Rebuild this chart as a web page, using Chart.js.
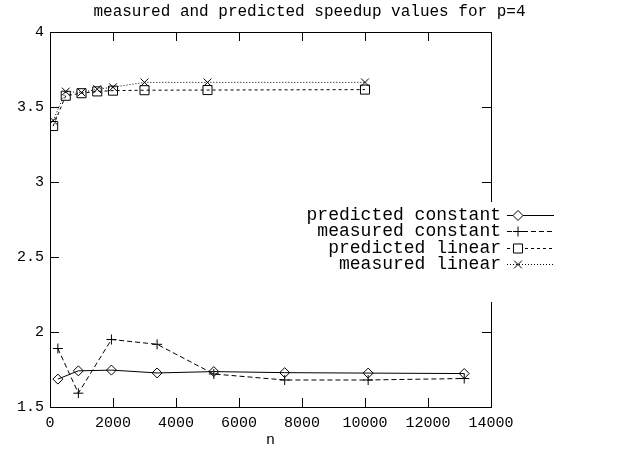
<!DOCTYPE html>
<html>
<head>
<meta charset="utf-8">
<script src="https://cdn.jsdelivr.net/npm/chart.js@4"></script>
<style>
  html, body { margin: 0; padding: 0; background: #fff; }
</style>
</head>
<body>
<canvas id="speedupChart" width="619" height="453"></canvas>
<script>
// values
const nConstant = [250, 900, 1950, 3400, 5200, 7450, 10100, 13150];
const predictedConstant = [1.686, 1.741, 1.746, 1.727, 1.736, 1.729, 1.726, 1.723];
const measuredConstant = [1.89, 1.592, 1.95, 1.918, 1.72, 1.68, 1.68, 1.69];

const nLinear = [100, 500, 1000, 1500, 2000, 3000, 5000, 10000];
const predictedLinear = [3.373, 3.575, 3.592, 3.604, 3.609, 3.612, 3.613, 3.616];
const measuredLinear = [3.41, 3.603, 3.597, 3.619, 3.632, 3.664, 3.664, 3.664];

const xTicks = [0, 2000, 4000, 6000, 8000, 10000, 12000, 14000];
const yTicks = [1.5, 2, 2.5, 3, 3.5, 4];

const titleText = "measured and predicted speedup values for p=4";
const FONT = "'Liberation Mono', 'DejaVu Sans Mono', monospace";

const pairs = (xs, ys) => xs.map((x, i) => ({ x: x, y: ys[i] }));

function series(label, xs, ys, style, radius, dash) {
  return {
    label: label,
    data: pairs(xs, ys),
    borderColor: "#000",
    borderWidth: 1,
    borderDash: dash,
    pointStyle: style,
    pointRadius: radius,
    pointBorderColor: "#000",
    pointBackgroundColor: "rgba(0,0,0,0)",
    pointBorderWidth: 1,
    showLine: true,
    tension: 0
  };
}

// gnuplot style frame with inward ticks, title and an opaque key
const gnuplotFrame = {
  id: "gnuplotFrame",
  afterDatasetsDraw(chart) {
    const ctx = chart.ctx;
    const a = chart.chartArea;
    const xs = chart.scales.x, ys = chart.scales.y;
    ctx.save();
    ctx.strokeStyle = "#000";
    ctx.lineWidth = 1;
    ctx.setLineDash([]);
    ctx.strokeRect(Math.round(a.left) + 0.5, Math.round(a.top) + 0.5,
      Math.round(a.right - a.left), Math.round(a.bottom - a.top));
    const len = 9;
    ctx.beginPath();
    xTicks.forEach(v => {
      const px = Math.round(xs.getPixelForValue(v)) + 0.5;
      ctx.moveTo(px, a.bottom); ctx.lineTo(px, a.bottom - len);
      ctx.moveTo(px, a.top); ctx.lineTo(px, a.top + len);
    });
    yTicks.forEach(v => {
      const py = Math.round(ys.getPixelForValue(v)) + 0.5;
      ctx.moveTo(a.left, py); ctx.lineTo(a.left + len, py);
      ctx.moveTo(a.right, py); ctx.lineTo(a.right - len, py);
    });
    ctx.stroke();

    // title
    ctx.fillStyle = "#000";
    ctx.font = "16px " + FONT;
    ctx.textAlign = "center";
    ctx.textBaseline = "middle";
    ctx.fillText(titleText, chart.width / 2, 12);

    // key (opaque box, like gnuplot's)
    ctx.fillStyle = "#fff";
    ctx.fillRect(292, 202, 268, 100);
    const textRight = 501, lineL = 507, lineR = 554, markX = 518;
    const rowY = [215, 231, 248, 264];
    ctx.font = "18px " + FONT;
    ctx.textAlign = "right";
    chart.data.datasets.forEach((ds, i) => {
      const y = rowY[i];
      ctx.fillStyle = "#000";
      ctx.fillText(ds.label, textRight, y);
      ctx.beginPath();
      ctx.setLineDash(ds.borderDash);
      ctx.moveTo(lineL, y + 0.5);
      ctx.lineTo(lineR, y + 0.5);
      ctx.stroke();
      ctx.setLineDash([]);
      ctx.fillStyle = "#fff";
      Chart.helpers.drawPoint(ctx, {
        pointStyle: ds.pointStyle, radius: ds.pointRadius, rotation: 0, borderWidth: 1
      }, markX, y + 0.5);
    });
    ctx.restore();
  }
};

new Chart(document.getElementById("speedupChart"), {
  type: "scatter",
  data: {
    datasets: [
      series("predicted constant", nConstant, predictedConstant, "rectRot", 5, []),
      series("measured constant", nConstant, measuredConstant, "cross", 5, [5, 3]),
      series("predicted linear", nLinear, predictedLinear, "rect", 6.4, [3, 3]),
      series("measured linear", nLinear, measuredLinear, "crossRot", 5.5, [1, 2])
    ]
  },
  plugins: [gnuplotFrame],
  options: {
    responsive: false,
    animation: false,
    layout: { padding: { top: 32, right: 128, left: 0, bottom: 0 } },
    plugins: {
      legend: { display: false },
      title: { display: false },
      tooltip: { enabled: false }
    },
    scales: {
      x: {
        type: "linear",
        min: 0, max: 14000,
        afterBuildTicks: s => { s.ticks = xTicks.map(v => ({ value: v })); },
        afterFit: s => { s.height = 46; },
        grid: { display: false, drawTicks: false },
        border: { display: false },
        ticks: { color: "#000", padding: 7, maxRotation: 0, font: { family: FONT, size: 15 },
          callback: v => String(v) },
        title: { display: true, text: "n", color: "#000", padding: { top: 0, bottom: 4 },
          font: { family: FONT, size: 15 } }
      },
      y: {
        type: "linear",
        min: 1.5, max: 4,
        afterBuildTicks: s => { s.ticks = yTicks.map(v => ({ value: v })); },
        afterFit: s => { s.width = 50; },
        grid: { display: false, drawTicks: false },
        border: { display: false },
        ticks: { color: "#000", padding: 6, font: { family: FONT, size: 15 },
          callback: v => String(v) }
      }
    }
  }
});
</script>
</body>
</html>
